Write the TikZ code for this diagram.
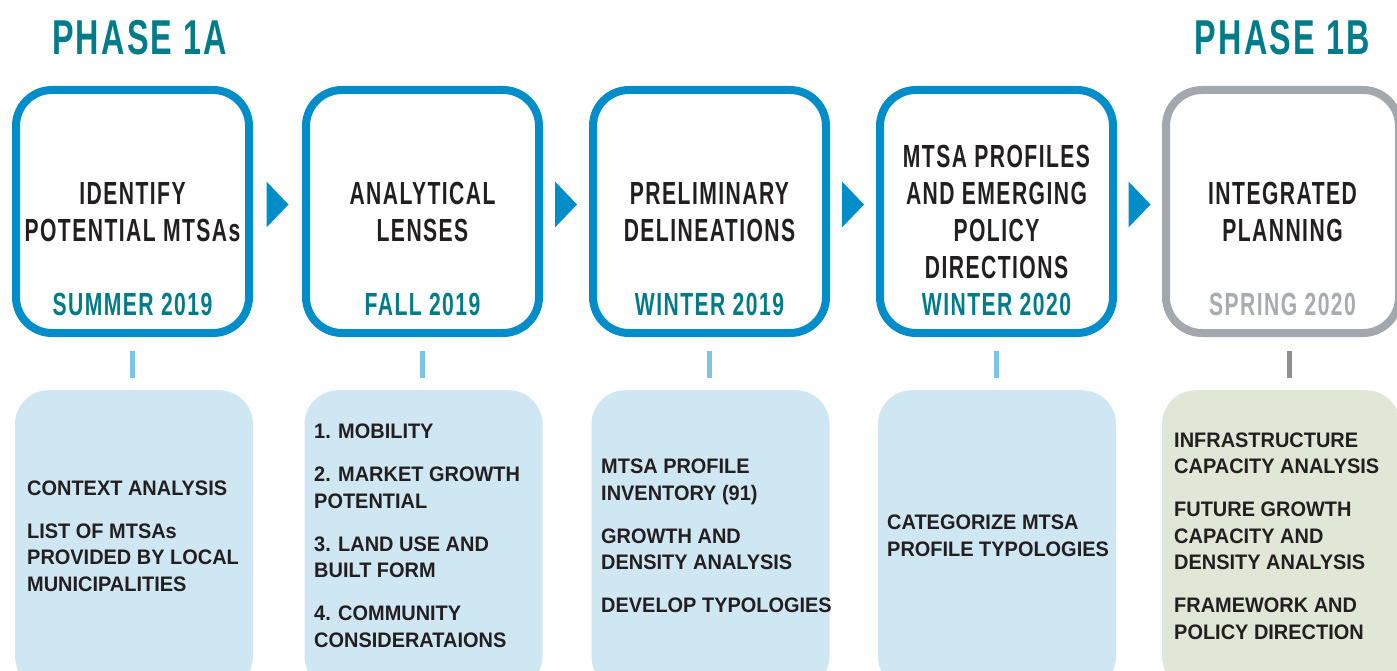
\documentclass[tikz,border=0pt]{standalone}
\usepackage{fontspec}
\setmainfont{Liberation Sans}
\newfontfamily\headfont[FakeStretch=0.66,LetterSpace=4.5]{Liberation Sans}
\newfontfamily\bodyfont[FakeStretch=0.95]{Liberation Sans}
\usetikzlibrary{calc}
\definecolor{mtsablue}{RGB}{0,141,201}
\definecolor{phaseteal}{RGB}{0,123,138}
\definecolor{tickblue}{RGB}{125,196,228}
\definecolor{paleblue}{RGB}{207,230,243}
\definecolor{palegreen}{RGB}{224,231,215}
\definecolor{greyline}{RGB}{162,168,173}
\definecolor{greydate}{RGB}{166,172,177}
\definecolor{greytick}{RGB}{142,142,146}
\definecolor{ink}{RGB}{35,31,32}

\begin{document}
\begin{tikzpicture}
[x=1pt,y=-1pt,
phase/.style={text=phaseteal,inner sep=0pt,font={\headfont\bfseries\fontsize{49}{49}\selectfont}},
topbox/.style={draw=mtsablue,fill=white,line width=8pt,rounded corners=36pt,minimum width=233pt,minimum height=243pt},
head/.style={text=ink,align=center,inner sep=0pt,font={\headfont\bfseries\fontsize{32}{37}\selectfont}},
date/.style={text=phaseteal,inner sep=0pt,font={\headfont\bfseries\fontsize{32}{37}\selectfont}},
botbox/.style={fill=paleblue,rounded corners=34pt,minimum width=238pt,minimum height=300pt,anchor=north},
body/.style={text=ink,align=left,anchor=west,inner sep=0pt,font={\bodyfont\bfseries\fontsize{21}{26.5}\selectfont}},
tick/.style={draw=tickblue,line width=5pt,shorten <=14pt,shorten >=12pt},
]

\useasboundingbox (0,0) rectangle (1397,671);
\clip (0,0) rectangle (1397,671);

%Gap between paragraphs
\def\gap{16.5pt}

%Phase titles
\node (p1) at (52,55)[phase,anchor=base west] {PHASE 1A};
\node (p2) at (1370,55)[phase,anchor=base east] {PHASE 1B};

%Top boxes
\node (t1) at (132.5,211.5)[topbox] {};
\node (t2) at (422.5,211.5)[topbox] {};
\node (t3) at (709.5,211.5)[topbox] {};
\node (t4) at (996.5,211.5)[topbox] {};
\node (t5) at (1282.5,211.5)[topbox,draw=greyline] {};

%Box titles
\node (h1) at (t1 |- 0,212)[head] {IDENTIFY\\POTENTIAL MTSAs};
\node (h2) at (t2 |- 0,212)[head] {ANALYTICAL\\LENSES};
\node (h3) at (t3 |- 0,212)[head] {PRELIMINARY\\DELINEATIONS};
\node (h4) at (t4 |- 0,212)[head] {MTSA PROFILES\\AND EMERGING\\POLICY\\DIRECTIONS};
\node (h5) at (t5 |- 0,212)[head] {INTEGRATED\\PLANNING};

%Dates
\node (d1) at (t1 |- 0,304.5)[date] {SUMMER 2019};
\node (d2) at (t2 |- 0,304.5)[date] {FALL 2019};
\node (d3) at (t3 |- 0,304.5)[date] {WINTER 2019};
\node (d4) at (t4 |- 0,304.5)[date] {WINTER 2020};
\node (d5) at (t5 |- 0,304.5)[date,text=greydate] {SPRING 2020};

%Arrow heads between boxes
\fill[mtsablue] ($(t1.east)!0.5!(t2.west)+(-11,-30)$) -- ++(22,23) -- ++(-22,23) -- cycle;
\fill[mtsablue] ($(t2.east)!0.5!(t3.west)+(-11,-30)$) -- ++(22,23) -- ++(-22,23) -- cycle;
\fill[mtsablue] ($(t3.east)!0.5!(t4.west)+(-11,-30)$) -- ++(22,23) -- ++(-22,23) -- cycle;
\fill[mtsablue] ($(t4.east)!0.5!(t5.west)+(-11,-30)$) -- ++(22,23) -- ++(-22,23) -- cycle;

%Bottom boxes
\node (b1) at (134,390)[botbox] {};
\node (b2) at (423.5,390)[botbox] {};
\node (b3) at (710.5,390)[botbox] {};
\node (b4) at (997,390)[botbox] {};
\node (b5) at (1281,390)[botbox,fill=palegreen] {};

%Ticks
\draw[tick] (t1.south) -- (t1.south |- b1.north);
\draw[tick] (t2.south) -- (t2.south |- b2.north);
\draw[tick] (t3.south) -- (t3.south |- b3.north);
\draw[tick] (t4.south) -- (t4.south |- b4.north);
\coordinate (k5) at ($(t5.south)+(6.5,0)$);
\draw[tick,draw=greytick] (k5) -- (k5 |- b5.north);

%Box contents
\node (c1) at (27,536)[body] {CONTEXT ANALYSIS\\[\gap]LIST OF MTSAs\\PROVIDED BY LOCAL\\MUNICIPALITIES};
\node (c2) at (314,536)[body] {1. MOBILITY\\[\gap]2. MARKET GROWTH\\POTENTIAL\\[\gap]3. LAND USE AND\\BUILT FORM\\[\gap]4. COMMUNITY\\CONSIDERATAIONS};
\node (c3) at (601,536)[body] {MTSA PROFILE\\INVENTORY (91)\\[\gap]GROWTH AND\\DENSITY ANALYSIS\\[\gap]DEVELOP TYPOLOGIES};
\node (c4) at (887,536)[body] {CATEGORIZE MTSA\\PROFILE TYPOLOGIES};
\node (c5) at (1174,536)[body] {INFRASTRUCTURE\\CAPACITY ANALYSIS\\[\gap]FUTURE GROWTH\\CAPACITY AND\\DENSITY ANALYSIS\\[\gap]FRAMEWORK AND\\POLICY DIRECTION};

\end{tikzpicture}
\end{document}
